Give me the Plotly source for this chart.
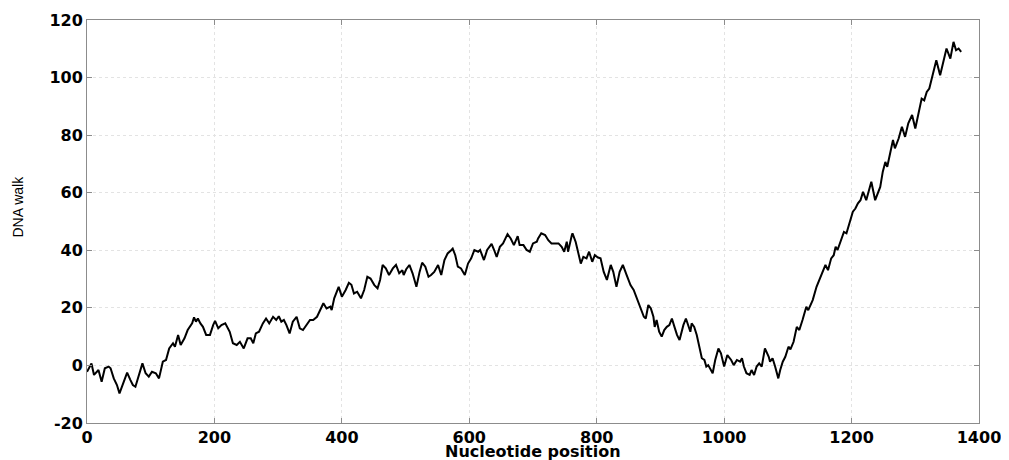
import plotly.graph_objects as go

# Nucleotide positions and DNA walk values
positions = [
    0, 7, 11, 18, 23, 28, 34, 37, 42, 47, 51, 57, 63, 68, 72, 76, 81, 87, 92, 97,
    102, 108, 113, 119, 124, 129, 135, 138, 143, 147, 153, 158, 165, 168, 171, 174, 178, 182, 187, 193,
    198, 201, 206, 211, 217, 224, 229, 235, 240, 246, 252, 257, 261, 265, 270, 276, 281, 286, 292, 297,
    301, 305, 309, 313, 318, 323, 329, 334, 339, 345, 350, 355, 361, 364, 371, 376, 382, 384, 388, 395,
    400, 406, 411, 415, 419, 424, 430, 435, 440, 445, 451, 456, 460, 464, 469, 474, 480, 485, 490, 495,
    497, 501, 506, 511, 517, 522, 526, 531, 536, 540, 545, 551, 556, 561, 566, 572, 574, 578, 582, 587,
    593, 598, 603, 608, 614, 617, 623, 628, 635, 639, 643, 648, 653, 660, 665, 670, 676, 679, 685, 690,
    695, 700, 706, 708, 713, 719, 724, 729, 734, 740, 745, 749, 753, 755, 761, 762, 767, 771, 775, 779,
    784, 788, 793, 797, 802, 806, 811, 816, 822, 826, 831, 836, 841, 847, 853, 858, 862, 868, 874, 877,
    881, 885, 889, 891, 894, 898, 902, 906, 910, 914, 918, 922, 926, 930, 933, 936, 940, 944, 947, 949,
    953, 957, 961, 965, 969, 972, 975, 978, 982, 986, 991, 995, 1000, 1005, 1011, 1015, 1020, 1025, 1028, 1031,
    1035, 1040, 1043, 1047, 1051, 1055, 1059, 1064, 1070, 1072, 1076, 1080, 1085, 1088, 1092, 1096, 1101, 1104, 1109, 1114,
    1118, 1123, 1129, 1132, 1139, 1145, 1153, 1159, 1163, 1168, 1172, 1175, 1178, 1184, 1188, 1192, 1197, 1202, 1206, 1210,
    1214, 1218, 1223, 1231, 1237, 1245, 1249, 1253, 1256, 1261, 1265, 1268, 1274, 1279, 1284, 1289, 1295, 1300, 1305, 1310,
    1314, 1318, 1322, 1328, 1333, 1339, 1344, 1349, 1355, 1360, 1364, 1368, 1372,
]
walk = [
    -2.2, 0.7, -3.3, -1.6, -5.7, -1.0, -0.4, -1.0, -4.5, -6.8, -9.7, -6.2, -2.5, -5.0, -6.8, -7.4, -3.9, 0.7, -2.7, -3.9,
    -2.2, -2.7, -4.5, 1.3, 1.9, 5.9, 7.7, 6.5, 10.6, 7.1, 9.4, 12.3, 14.6, 16.7, 15.2, 16.3, 14.6, 13.4, 10.6, 10.6,
    14.0, 15.5, 12.9, 14.0, 14.6, 11.7, 7.7, 7.1, 8.2, 5.9, 9.4, 9.4, 7.7, 11.1, 11.7, 14.6, 16.3, 14.6, 16.9, 15.8,
    17.1, 15.2, 15.8, 14.0, 11.1, 15.2, 16.9, 12.9, 12.3, 14.0, 15.8, 15.8, 16.9, 18.3, 21.6, 19.8, 20.4, 19.2, 23.3, 27.3,
    23.9, 26.2, 28.7, 28.0, 25.0, 25.6, 23.3, 26.2, 30.8, 30.2, 27.9, 26.8, 29.7, 34.9, 33.7, 31.4, 33.7, 34.9, 32.0, 33.1,
    31.4, 33.4, 34.9, 32.0, 27.3, 32.5, 35.7, 34.3, 30.8, 31.4, 32.5, 34.9, 31.4, 36.6, 38.9, 40.1, 40.6, 38.3, 34.3, 33.7,
    31.4, 35.4, 37.2, 40.1, 39.5, 40.1, 36.6, 40.1, 42.2, 40.1, 37.7, 41.2, 42.4, 45.6, 44.1, 41.8, 44.9, 41.8, 41.8, 40.1,
    39.5, 42.4, 43.0, 44.1, 45.9, 45.3, 43.5, 42.4, 42.4, 42.4, 41.2, 39.5, 43.0, 39.5, 45.3, 45.9, 42.9, 39.5, 35.4, 37.7,
    37.2, 39.5, 36.0, 38.3, 37.5, 37.2, 32.5, 29.7, 34.9, 32.5, 27.3, 32.5, 34.9, 31.4, 27.9, 26.2, 23.9, 21.0, 16.9, 16.3,
    21.0, 19.8, 16.9, 13.4, 15.8, 11.7, 10.0, 12.3, 13.4, 14.0, 16.3, 13.4, 10.6, 8.8, 11.7, 14.0, 16.3, 13.4, 11.7, 14.6,
    13.4, 10.6, 6.5, 2.5, 1.9, -0.4, 0.1, -1.0, -2.7, 1.9, 5.9, 4.2, -0.4, 3.6, 1.9, 0.1, 1.9, 1.3, 2.5, -0.4,
    -2.7, -3.3, -1.6, -3.3, -0.4, 0.7, -0.4, 5.9, 3.0, 1.3, 2.5, -0.4, -4.5, -1.6, 1.3, 3.0, 6.5, 5.6, 8.2, 13.4,
    12.3, 15.8, 20.4, 19.2, 22.7, 27.3, 31.4, 34.9, 33.1, 37.2, 38.3, 41.2, 40.1, 44.1, 46.4, 45.9, 49.3, 53.4, 54.5, 56.3,
    57.4, 60.3, 57.4, 63.8, 57.4, 62.0, 67.3, 70.7, 69.0, 73.6, 78.3, 75.4, 78.9, 82.9, 79.4, 84.1, 87.0, 82.3, 87.5, 92.7,
    92.1, 95.0, 96.2, 102.0, 106.0, 100.8, 105.4, 110.1, 106.6, 112.4, 109.5, 110.1, 108.9,
]

x_ticks = [0, 200, 400, 600, 800, 1000, 1200, 1400]
y_ticks = [-20, 0, 20, 40, 60, 80, 100, 120]
x_title = "Nucleotide position"
y_title = "DNA walk"

fig = go.Figure()
fig.add_trace(go.Scatter(
    x=positions, y=walk, mode="lines",
    line=dict(color="black", width=2),
    hoverinfo="skip", showlegend=False,
))

tick_font = dict(family="DejaVu Sans", size=16, color="black", weight="bold")
axis_common = dict(
    showline=True, linecolor="#8c8c8c", linewidth=1, mirror="ticks",
    ticks="inside", ticklen=5, tickcolor="#8c8c8c", tickwidth=1,
    showgrid=True, gridcolor="#e3e3e3", gridwidth=1, griddash="dot",
    zeroline=False, tickfont=tick_font, automargin=False,
)

# The page body adds an 8px offset, so the figure is sized to fit the 1009x460 window
fig.update_layout(
    width=1001, height=452,
    margin=dict(l=79, r=30, t=12, b=37),
    paper_bgcolor="white", plot_bgcolor="white",
    xaxis=dict(range=[0, 1400], tickvals=x_ticks, ticktext=[str(v) for v in x_ticks], **axis_common),
    yaxis=dict(range=[-20, 120], tickvals=y_ticks, ticktext=[str(v) for v in y_ticks], **axis_common),
    annotations=[
        dict(text=x_title, xref="paper", yref="paper", x=0.5, y=-0.0695,
             xanchor="center", yanchor="middle", showarrow=False,
             font=dict(family="DejaVu Sans", size=16, color="black", weight="bold")),
        dict(text=y_title, xref="paper", yref="paper", x=-0.077, y=0.538,
             xanchor="center", yanchor="middle", showarrow=False, textangle=-90,
             font=dict(family="Liberation Sans", size=14, color="black")),
    ],
)

fig.write_html("out.html")
